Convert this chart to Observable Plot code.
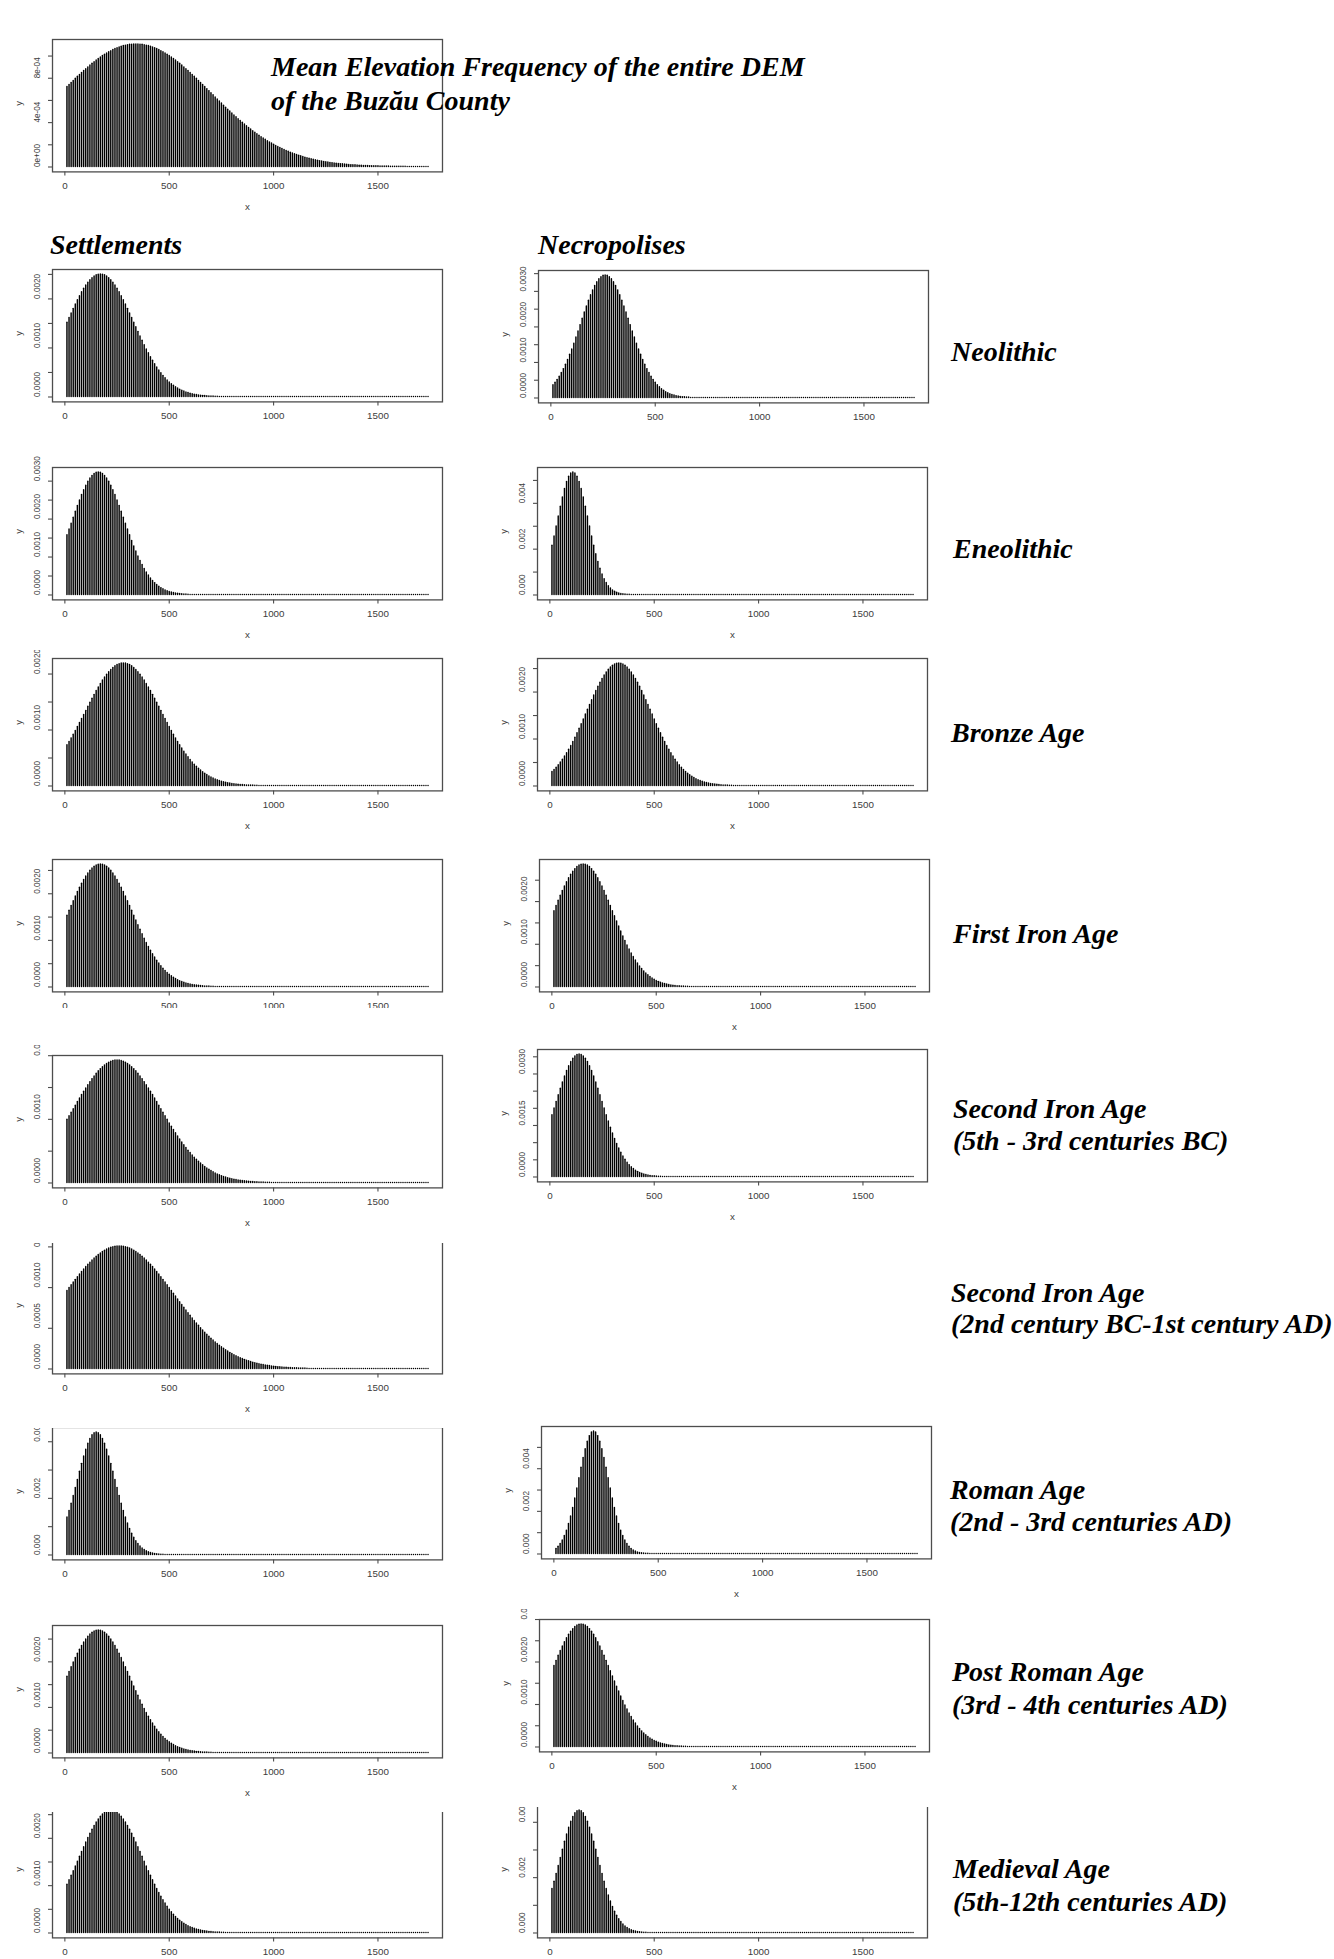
<!DOCTYPE html>
<html>
<head>
<meta charset="utf-8">
<script src="https://cdn.jsdelivr.net/npm/d3@7"></script>
<script src="https://cdn.jsdelivr.net/npm/@observablehq/plot@0.6"></script>
<style>
html, body { margin: 0; padding: 0; background: #fff; }
#page { position: relative; width: 1334px; height: 1959px; overflow: hidden; background: #fff; }
.clip { position: absolute; overflow: hidden; }
#overlay { position: absolute; left: 0; top: 0; }
</style>
</head>
<body>
<div id="page"></div>
<script>
// ---------------- DATA ----------------
// Bars are at elevations 10, 20, 30, ... (step 10); values are densities in units of 1e-6.
// Beyond the end of each array the bars are ~0 (drawn as dots along the baseline up to 1740).
const X_FIRST = 10, X_STEP = 10, X_LAST = 1740, UNIT = 1e-6;
const xTickLabels = ["0", "500", "1000", "1500"];

const demValues = [721,740,758,776,795,813,830,848,865,882,898,914,930,945,959,973,987,1000,1012,1023,1034,1044,1054,1063,1070,1078,1084,1090,1094,1098,1101,1103,1105,
1105,
1105,1103,1101,1098,1094,1090,1084,1078,1070,1063,1054,1044,1034,1023,1012,1000,987,973,959,945,930,914,898,882,865,848,830,813,795,776,758,740,721,
702,684,665,646,627,609,590,572,553,535,517,500,482,465,448,431,415,399,383,367,352,338,323,309,296,282,269,257,245,233,222,211,200,190,180,171,162,153,145,137,129,122,115,108,102,96,90,84,79,74,70,65,61,57,53,50,46,43,40,37,35,32,30,28,26,24,22,20,19,17,16,15,14,12,11,10,10,9,8,7,7,6,6,5,
5,4,4,4,3,3,3,2,2,2,2,2,1];

const neoSettle = [1516,1611,1705,1797,1887,1974,2056,2134,2206,2272,2330,2381,2423,2456,2481,2495,2500,2495,2481,2456,2423,2381,2330,2272,2206,2134,2056,1974,1887,1797,1705,1611,1516,1422,1328,1235,1145,1057,971,890,812,738,668,602,541,484,431,383,338,298,261,229,199,172,149,128,110,94,80,68,57,48,40,33,28,23,19,16,13,10,8,7,5];
const neoNecro = [361,431,510,600,701,813,936,1070,1215,1368,1530,1700,1874,2051,2228,2404,2575,2738,2890,3029,3152,3256,3340,3400,3438,3450,3438,3400,3340,3256,3152,3029,2890,2738,2575,2404,2228,2051,1874,1700,1530,1368,1215,1070,936,813,701,600,510,431,361,300,248,203,165,134,107,85,68,53,41,32,25,19,14,11];
const eneSettle = [1572,1725,1881,2037,2193,2345,2492,2632,2761,2879,2982,3069,3138,3189,3220,3230,3220,3189,3138,3069,2982,2879,2761,2632,2492,2345,2193,2037,1881,1725,1572,1424,1281,1145,1017,898,788,686,594,511,437,371,313,263,219,181,149,122,99,80,64,51,40,32,25,19,15,11,9];
const eneNecro = [2151,2557,2986,3423,3854,4260,4624,4929,5158,5301,5350,5301,5158,4929,4624,4260,3854,3423,2986,2557,2151,1776,1440,1147,897,688,519,384,279,199,140,96,65,43,28,18,11,7,4,3,1];
const broSettle = [727,788,851,916,984,1053,1124,1196,1269,1342,1415,1487,1558,1628,1696,1761,1824,1883,1938,1988,2034,2074,2109,2138,2160,2177,2187,2190,2187,2177,2160,2138,2109,2074,2034,1988,1938,1883,1824,1761,1696,1628,1558,1487,1415,1342,1269,1196,1124,1053,984,916,851,788,727,669,614,561,512,465,422,381,343,308,276,247,219,195,172,152,134,117,102,89,78,67,58,50,43,37,31,27,23,19,16,14,11,9,8,7,5,4];
const broNecro = [300,343,390,442,498,560,626,697,773,854,939,1028,1121,1217,1316,1417,1520,1623,1725,1826,1926,2021,2113,2200,2280,2353,2419,2476,2523,2561,2588,2604,2610,2604,2588,2561,2523,2476,2419,2353,2280,2200,2113,2021,1926,1826,1725,1623,1520,1417,1316,1217,1121,1028,939,854,773,697,626,560,498,442,390,343,300,262,227,196,169,145,124,105,89,75,63,53,44,36,30,25,20,16,13,11,9,7,6];
const fiSettle = [1531,1635,1738,1840,1940,2037,2129,2216,2297,2371,2437,2495,2543,2580,2608,2624,2630,2624,2608,2580,2543,2495,2437,2371,2297,2216,2129,2037,1940,1840,1738,1635,1531,1428,1327,1227,1130,1036,946,860,779,702,631,564,502,445,393,345,302,264,229,198,170,146,124,106,90,75,63,53,44,36,30,25,20,16,13,11,9,7,6];
const fiNecro = [1776,1897,2017,2134,2246,2353,2453,2545,2628,2699,2760,2807,2842,2863,2870,2863,2842,2807,2760,2699,2628,2545,2453,2353,2246,2134,2017,1897,1776,1654,1533,1414,1298,1185,1077,974,877,785,700,621,548,481,420,366,316,273,234,199,169,143,120,100,83,69,57,47,38,31,25,20,16,13,10,8,6];
const siSettle = [992,1047,1103,1159,1215,1271,1326,1381,1434,1486,1537,1585,1632,1675,1716,1754,1789,1820,1848,1871,1891,1906,1917,1924,1926,1924,1917,1906,1891,1871,1848,1820,1789,1754,1716,1675,1632,1585,1537,1486,1434,1381,1326,1271,1215,1159,1103,1047,992,937,884,832,781,731,683,637,592,549,508,470,433,398,365,334,305,278,252,229,207,187,168,151,135,121,108,96,85,76,67,59,52,46,40,35,30,26,23,20,17,15,13,11,9,8,7,6,5,4];
const siNecro = [1801,1992,2187,2381,2572,2755,2927,3086,3226,3346,3442,3513,3556,3570,3556,3513,3442,3346,3226,3086,2927,2755,2572,2381,2187,1992,1801,1614,1435,1266,1108,961,827,707,598,503,419,346,284,231,186,149,118,93,73,56,43,33,25,19,14,10,8];
const si2Settle = [959,994,1028,1062,1095,1128,1160,1192,1222,1252,1280,1307,1333,1357,1380,1401,1420,1438,1454,1467,1479,1489,1496,1502,1505,1506,1505,1502,1496,1489,1479,1467,1454,1438,1420,1401,1380,1357,1333,1307,1280,1252,1222,1192,1160,1128,1095,1062,1028,994,959,924,890,855,821,786,752,719,686,654,622,591,560,531,502,474,447,421,396,372,349,327,306,285,266,248,230,214,198,183,170,156,144,133,122,112,103,94,86,78,71,65,59,53,48,44,40,36,32,29,26,23,21,19,17,15,13,12,10,9,8,7,6,6,5,4];
const romSettle = [1323,1558,1812,2082,2364,2653,2940,3219,3483,3722,3930,4101,4226,4304,4330,4304,4226,4101,3930,3722,3483,3219,2940,2653,2364,2082,1812,1558,1323,1110,920,754,610,488,385,301,232,176,133,99,73,53,38,27,19,13,9];
const romNecro = [240,339,468,634,842,1097,1402,1757,2158,2600,3071,3557,4041,4501,4916,5265,5529,5694,5750,5694,5529,5265,4916,4501,4041,3557,3071,2600,2158,1757,1402,1097,842,634,468,339,240,167,114,76,50,32,20,13,8];
const prSettle = [1672,1778,1882,1985,2083,2178,2267,2350,2425,2493,2552,2601,2639,2667,2684,2690,2684,2667,2639,2601,2552,2493,2425,2350,2267,2178,2083,1985,1882,1778,1672,1566,1461,1357,1255,1155,1060,968,880,797,718,645,577,513,455,402,353,309,270,234,202,174,149,127,108,92,77,65,54,45,37,31,25,21,17,14,11,9,7,6];
const prNecro = [1907,2027,2145,2258,2366,2466,2559,2641,2714,2774,2822,2857,2878,2885,2878,2857,2822,2774,2714,2641,2559,2466,2366,2258,2145,2027,1907,1785,1662,1541,1421,1304,1191,1083,979,881,789,704,624,551,484,423,368,318,274,235,200,170,143,121,101,84,70,57,47,38,31,25,20,16,13,10,8,6];
const medSettle = [1020,1113,1208,1306,1407,1508,1610,1712,1812,1911,2006,2097,2183,2262,2335,2400,2457,2504,2541,2568,2585,2590,2585,2568,2541,2504,2457,2400,2335,2262,2183,2097,2006,1911,1812,1712,1610,1508,1407,1306,1208,1113,1020,932,847,767,692,621,555,494,438,387,340,298,260,225,195,168,144,123,104,88,74,62,52,43,36,30,24,20,16,13,11,9,7,5];
const medNecro = [1594,1854,2130,2419,2714,3008,3294,3563,3808,4021,4195,4324,4403,4430,4403,4324,4195,4021,3808,3563,3294,3008,2714,2419,2130,1854,1594,1353,1136,941,771,624,499,394,307,237,180,136,101,74,54,39,27,19,13,9];

// y tick labels shown on each panel (unlabelled minor ticks fall between them)
const yLabDem  = ["0e+00", "4e-04", "8e-04"];
const yLabNeoS = ["0.0000", "0.0010", "0.0020"];
const yLabNeoN = ["0.0000", "0.0010", "0.0020", "0.0030"];
const yLabEneS = ["0.0000", "0.0010", "0.0020", "0.0030"];
const yLabEneN = ["0.000", "0.002", "0.004"];
const yLabBroS = ["0.0000", "0.0010", "0.0020"];
const yLabBroN = ["0.0000", "0.0010", "0.0020"];
const yLabFiS  = ["0.0000", "0.0010", "0.0020"];
const yLabFiN  = ["0.0000", "0.0010", "0.0020"];
const yLabSiS  = ["0.0000", "0.0010", "0.0020"];
const yLabSiN  = ["0.0000", "0.0015", "0.0030"];
const yLabSi2S = ["0.0000", "0.0005", "0.0010", "0.0015"];
const yLabRomS = ["0.000", "0.002", "0.004"];
const yLabRomN = ["0.000", "0.002", "0.004"];
const yLabPrS  = ["0.0000", "0.0010", "0.0020"];
const yLabPrN  = ["0.0000", "0.0010", "0.0020", "0.0030"];
const yLabMedS = ["0.0000", "0.0010", "0.0020"];
const yLabMedN = ["0.000", "0.002", "0.004"];

const titleLines = ["Mean Elevation Frequency of the entire DEM", "of the Buzău County"];
const columnHeads = ["Settlements", "Necropolises"];
const periodLabels = [
  ["Neolithic"],
  ["Eneolithic"],
  ["Bronze Age"],
  ["First Iron Age"],
  ["Second Iron Age", "(5th - 3rd centuries BC)"],
  ["Second Iron Age", "(2nd century BC-1st century AD)"],
  ["Roman Age", "(2nd - 3rd centuries AD)"],
  ["Post Roman Age", "(3rd - 4th centuries AD)"],
  ["Medieval Age", "(5th-12th centuries AD)"]
];

// ---------------- LAYOUT ----------------
const panels = [
  {vals: demValues, labels: yLabDem,  step: 2e-4, bl: 51.7,  bt: 39.3,   ct: 28,     cb: 222,  xTitle: true},
  {vals: neoSettle, labels: yLabNeoS, step: 5e-4, bl: 51.7,  bt: 269.3,  ct: 262,    cb: 425,  xTitle: false},
  {vals: neoNecro,  labels: yLabNeoN, step: 5e-4, bl: 538.3, bt: 270,    ct: 262,    cb: 425,  xTitle: false},
  {vals: eneSettle, labels: yLabEneS, step: 5e-4, bl: 51.7,  bt: 466.5,  ct: 455,    cb: 648,  xTitle: true},
  {vals: eneNecro,  labels: yLabEneN, step: 1e-3, bl: 537.3, bt: 466.5,  ct: 455,    cb: 648,  xTitle: true},
  {vals: broSettle, labels: yLabBroS, step: 5e-4, bl: 51.7,  bt: 658.4,  ct: 650,    cb: 840,  xTitle: true},
  {vals: broNecro,  labels: yLabBroN, step: 5e-4, bl: 537.3, bt: 658.4,  ct: 650,    cb: 840,  xTitle: true},
  {vals: fiSettle,  labels: yLabFiS,  step: 5e-4, bl: 51.7,  bt: 859.4,  ct: 850,    cb: 1008, xTitle: false},
  {vals: fiNecro,   labels: yLabFiN,  step: 5e-4, bl: 539.3, bt: 859.4,  ct: 850,    cb: 1040, xTitle: true},
  {vals: siSettle,  labels: yLabSiS,  step: 5e-4, bl: 51.7,  bt: 1055,   ct: 1045,   cb: 1236, xTitle: true},
  {vals: siNecro,   labels: yLabSiN,  step: 5e-4, bl: 537.3, bt: 1048.7, ct: 1040,   cb: 1230, xTitle: true},
  {vals: si2Settle, labels: yLabSi2S, step: 5e-4, bl: 51.7,  bt: 1240.9, ct: 1242.6, cb: 1420, xTitle: true},
  {vals: romSettle, labels: yLabRomS, step: 1e-3, bl: 51.7,  bt: 1426.6, ct: 1428.4, cb: 1590, xTitle: false},
  {vals: romNecro,  labels: yLabRomN, step: 1e-3, bl: 541,   bt: 1426,   ct: 1415,   cb: 1605, xTitle: true},
  {vals: prSettle,  labels: yLabPrS,  step: 5e-4, bl: 51.7,  bt: 1624.5, ct: 1612,   cb: 1805, xTitle: true},
  {vals: prNecro,   labels: yLabPrN,  step: 5e-4, bl: 539.3, bt: 1619,   ct: 1609,   cb: 1800, xTitle: true},
  {vals: medSettle, labels: yLabMedS, step: 5e-4, bl: 51.7,  bt: 1805.2, ct: 1812,   cb: 1959, xTitle: true},
  {vals: medNecro,  labels: yLabMedN, step: 1e-3, bl: 537.3, bt: 1805,   ct: 1806.8, cb: 1959, xTitle: true}
];

const page = document.getElementById("page");
const ML = 55, MR = 20, MT = 30, MB = 50, W = 390, H = 132.4, TICK = 4;
const AXIS_COLOR = "#4d4d4d", TEXT_COLOR = "#3c3c3c";

function drawPanel(p) {
  const n = Math.round((X_LAST - X_FIRST) / X_STEP) + 1;
  const rows = d3.range(n).map(i => ({
    x: X_FIRST + i * X_STEP,
    y: (i < p.vals.length ? p.vals[i] : 0) * UNIT
  }));
  const ymax = d3.max(rows, d => d.y), ymin = d3.min(rows, d => d.y);
  const ypad = 0.04 * (ymax - ymin);
  const yDom = [ymin - ypad, ymax + ypad];
  const xpad = 0.04 * (X_LAST - X_FIRST);
  const xDom = [X_FIRST - xpad, X_LAST + xpad];
  const yPerPx = (yDom[1] - yDom[0]) / H;
  const xPerPx = (xDom[1] - xDom[0]) / W;
  const nT = Math.floor(yDom[1] / p.step + 1e-6);
  const yTicks = d3.range(nT + 1).map(i => i * p.step);
  const xTicks = xTickLabels.map(Number);

  const marks = [
    Plot.ruleX(rows, {x: "x", y1: () => 0, y2: "y", stroke: "#000", strokeWidth: 1.45, strokeLinecap: "round"}),
    Plot.frame({stroke: AXIS_COLOR, strokeWidth: 1.3}),
    Plot.ruleX(xTicks, {x: d => d, y1: () => yDom[0], y2: () => yDom[0] - TICK * yPerPx, stroke: AXIS_COLOR, strokeWidth: 1.1}),
    Plot.ruleY(yTicks, {y: d => d, x1: () => xDom[0], x2: () => xDom[0] - TICK * xPerPx, stroke: AXIS_COLOR, strokeWidth: 1.1}),
    Plot.text(xTickLabels, {x: d => +d, text: d => d, frameAnchor: "bottom", dy: 17, fontSize: 9.8, fill: TEXT_COLOR}),
    Plot.text(p.labels, {y: d => +d, text: d => d, frameAnchor: "left", dx: -15, rotate: -90, fontSize: 8.2, fill: TEXT_COLOR}),
    Plot.text(["y"], {text: d => d, frameAnchor: "left", dx: -34, rotate: -90, fontSize: 9.5, fill: TEXT_COLOR})
  ];
  if (p.xTitle) marks.push(Plot.text(["x"], {text: d => d, frameAnchor: "bottom", dy: 38, fontSize: 9.8, fill: TEXT_COLOR}));

  const svg = Plot.plot({
    width: ML + W + MR, height: MT + H + MB,
    marginLeft: ML, marginRight: MR, marginTop: MT, marginBottom: MB,
    style: {background: "transparent", fontFamily: "'Liberation Sans', Arial, sans-serif", overflow: "visible"},
    x: {domain: xDom, axis: null},
    y: {domain: yDom, axis: null},
    marks
  });
  const wrap = document.createElement("div");
  wrap.className = "clip";
  wrap.style.left = (p.bl - ML) + "px";
  wrap.style.top = p.ct + "px";
  wrap.style.width = (ML + W + MR) + "px";
  wrap.style.height = (p.cb - p.ct) + "px";
  svg.style.position = "absolute";
  svg.style.left = "0px";
  svg.style.top = (p.bt - MT - p.ct) + "px";
  wrap.appendChild(svg);
  page.appendChild(wrap);
}
panels.forEach(drawPanel);

// ---------------- TEXT OVERLAY ----------------
const textPos = {
  title: [[271, 76], [271, 110]],
  heads: [[50, 254], [538, 254]],
  periods: [
    [[951, 361]],
    [[953, 558]],
    [[951, 742]],
    [[953, 943]],
    [[953, 1118], [953, 1150]],
    [[951, 1302], [951, 1333]],
    [[950, 1499], [950, 1531]],
    [[952, 1681], [952, 1714]],
    [[953, 1878], [953, 1911]]
  ]
};
const ov = d3.select(page).append("svg")
  .attr("id", "overlay").attr("width", 1334).attr("height", 1959)
  .style("font-family", "'Liberation Serif', 'Times New Roman', serif")
  .style("font-weight", "bold").style("font-style", "italic")
  .style("font-size", "28px");
function put(str, [x, y]) { ov.append("text").attr("x", x).attr("y", y).attr("fill", "#000").text(str); }
titleLines.forEach((t, i) => put(t, textPos.title[i]));
columnHeads.forEach((t, i) => put(t, textPos.heads[i]));
periodLabels.forEach((lines, i) => lines.forEach((t, j) => put(t, textPos.periods[i][j])));
</script>
</body>
</html>
